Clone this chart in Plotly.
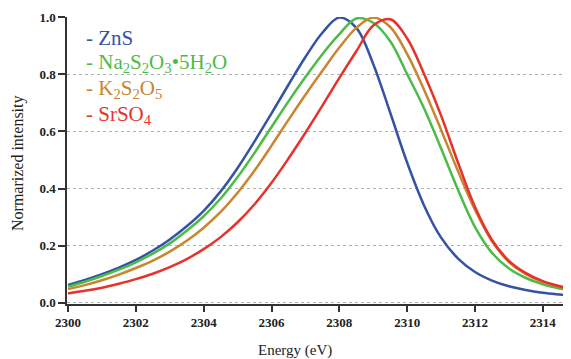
import plotly.graph_objects as go

energy = [2300, 2300.5, 2301, 2301.5, 2302, 2302.5, 2303, 2303.5, 2304, 2304.5, 2305, 2305.5,
          2306, 2306.5, 2307, 2307.5, 2308, 2308.5, 2309, 2309.5, 2310, 2310.5, 2311,
          2311.5, 2312, 2312.5, 2313, 2313.5, 2314, 2314.5, 2314.8]

zns = [0.063, 0.080, 0.100, 0.123, 0.150, 0.183, 0.222, 0.268, 0.322, 0.390, 0.472, 0.565,
       0.663, 0.763, 0.860, 0.945, 0.998, 0.962, 0.835, 0.665, 0.490, 0.340, 0.228,
       0.155, 0.108, 0.078, 0.058, 0.045, 0.035, 0.029, 0.026]
na2s2o3 = [0.057, 0.074, 0.094, 0.116, 0.142, 0.172, 0.208, 0.252, 0.303, 0.365, 0.440, 0.525,
           0.615, 0.705, 0.790, 0.870, 0.940, 0.995, 0.980, 0.915, 0.800, 0.680, 0.540,
           0.395, 0.265, 0.175, 0.120, 0.087, 0.065, 0.050, 0.043]
k2s2o5 = [0.048, 0.062, 0.079, 0.099, 0.122, 0.148, 0.179, 0.217, 0.263, 0.318, 0.385, 0.463,
          0.550, 0.640, 0.728, 0.812, 0.893, 0.962, 0.998, 0.965, 0.870, 0.745, 0.605,
          0.460, 0.325, 0.215, 0.143, 0.100, 0.073, 0.056, 0.047]
srso4 = [0.033, 0.042, 0.053, 0.067, 0.083, 0.102, 0.125, 0.153, 0.188, 0.230, 0.282, 0.345,
         0.420, 0.505, 0.595, 0.690, 0.787, 0.880, 0.970, 0.992, 0.925, 0.800, 0.655,
         0.490, 0.335, 0.220, 0.147, 0.104, 0.076, 0.058, 0.049]

series = [
    ("ZnS", zns, "#3553a5", "- ZnS"),
    ("Na2S2O3·5H2O", na2s2o3, "#4dbb48",
     "- Na<sub>2</sub>S<sub>2</sub>O<sub>3</sub>•5H<sub>2</sub>O"),
    ("K2S2O5", k2s2o5, "#c98530", "- K<sub>2</sub>S<sub>2</sub>O<sub>5</sub>"),
    ("SrSO4", srso4, "#e6322b", "- SrSO<sub>4</sub>"),
]

y_ticks = [0.0, 0.2, 0.4, 0.6, 0.8, 1.0]
x_ticks = [2300, 2302, 2304, 2306, 2308, 2310, 2312, 2314]

fig = go.Figure()
for name, vals, color, _ in series:
    fig.add_trace(go.Scatter(x=energy, y=vals, mode="lines", name=name,
                             line=dict(color=color, width=2.5, shape="spline", smoothing=1.0),
                             showlegend=False))

# page has an 8px body margin; figure sized to fill the 571x359 window
OFF = 8
W, H = 571 - OFF, 359 - OFF
L, R, T, B = 59, 1, 9, 55
pw, ph = W - L - R, H - T - B

def px(xp):
    return (xp - OFF - L) / pw

def py(yp):
    return (H - B - (yp - OFF)) / ph

serif = "Liberation Serif"

fig.update_layout(
    width=W, height=H,
    margin=dict(l=L, r=R, t=T, b=B),
    paper_bgcolor="white", plot_bgcolor="white",
    xaxis=dict(range=[2299.97, 2314.8], tickvals=x_ticks,
               ticktext=["<b>%d</b>" % v for v in x_ticks],
               showgrid=False, zeroline=False, showline=True,
               linecolor="#333333", linewidth=1.5,
               ticks="outside", ticklen=6, tickwidth=1.5, tickcolor="#333333",
               tickfont=dict(family=serif, size=13, color="#222222")),
    yaxis=dict(range=[-0.004, 1.0], tickvals=y_ticks,
               ticktext=["<b>%.1f</b>" % v for v in y_ticks],
               showgrid=True, gridcolor="#b0b0b0", gridwidth=1, griddash="dot",
               zeroline=False, showline=True,
               linecolor="#333333", linewidth=1.5,
               ticks="outside", ticklen=7, tickwidth=1.5, tickcolor="#333333",
               tickfont=dict(family=serif, size=13, color="#222222")),
    font=dict(family=serif),
)

# white legend backdrop masking the gridlines
fig.add_shape(type="rect", xref="paper", yref="paper",
              x0=px(76), x1=px(228), y0=py(135), y1=py(22),
              fillcolor="white", line=dict(width=0), layer="between")

leg_y = [38, 63, 89, 115]
for (name, vals, color, label), yp in zip(series, leg_y):
    fig.add_annotation(xref="paper", yref="paper", x=px(84), y=py(yp),
                       text=label, showarrow=False, xanchor="left", yanchor="middle",
                       font=dict(family=serif, size=21, color=color))

fig.add_annotation(xref="paper", yref="paper", x=px(295), y=py(350),
                   text="Energy (eV)", showarrow=False, xanchor="center", yanchor="middle",
                   font=dict(family=serif, size=15, color="#222222"))
fig.add_annotation(xref="paper", yref="paper", x=px(18), y=py(163),
                   text="Normarized intensity", showarrow=False, textangle=-90,
                   xanchor="center", yanchor="middle",
                   font=dict(family=serif, size=16, color="#222222"))

fig.write_html("out.html")
